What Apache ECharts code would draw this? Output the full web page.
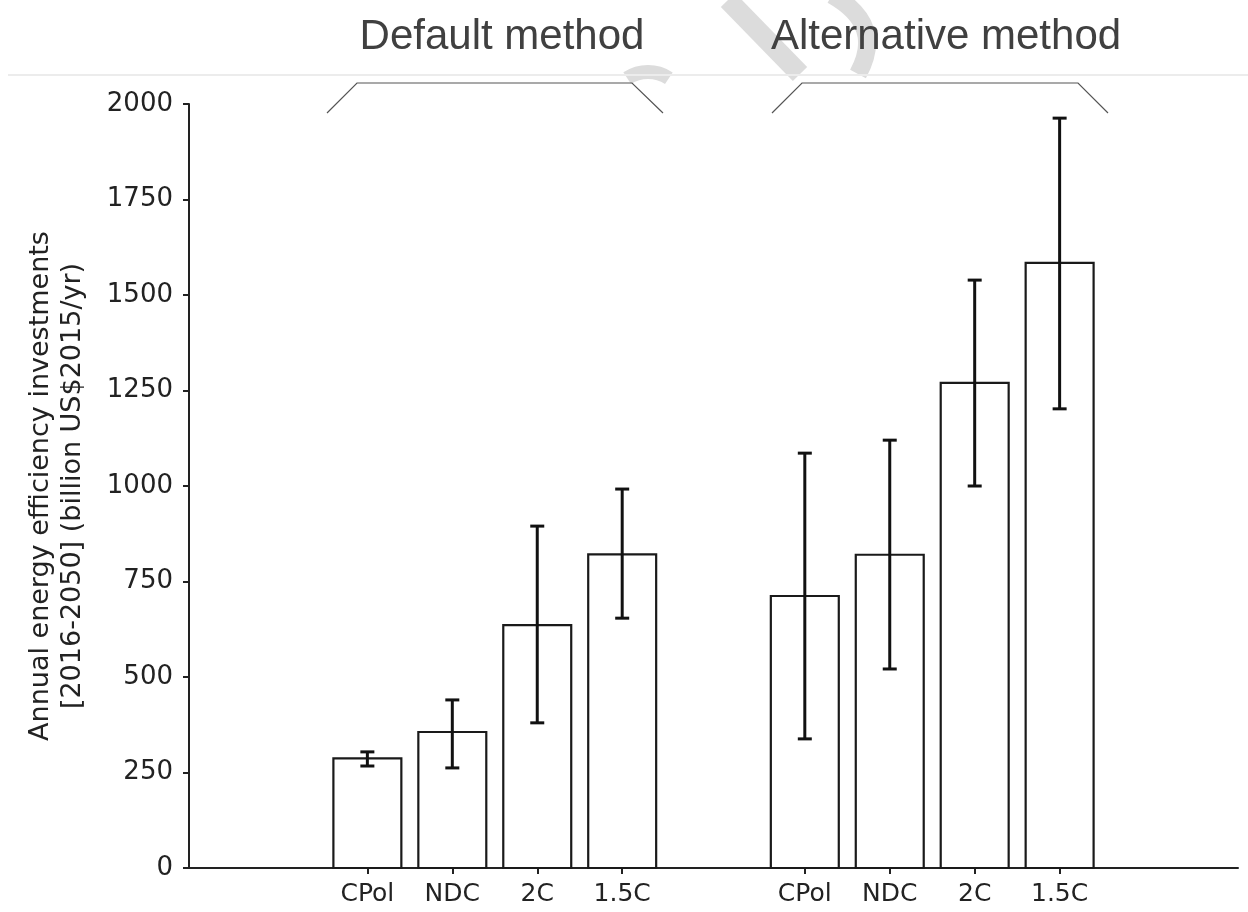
<!DOCTYPE html>
<html>
<head>
<meta charset="utf-8">
<script src="https://cdn.jsdelivr.net/npm/echarts@6/dist/echarts.min.js"></script>
<style>
html, body { margin: 0; padding: 0; background: #fff; }
#chart { width: 1248px; height: 912px; }
</style>
</head>
<body>
<div id="chart"></div>
<script>
// data
var scenarios = ['CPol', 'NDC', '2C', '1.5C'];
var groupNames = ['Default method', 'Alternative method'];
var defaultMean = [287, 356, 636, 821];
var defaultLow  = [267, 262, 380, 654];
var defaultHigh = [304, 440, 895, 992];
var altMean = [712, 820, 1270, 1584];
var altLow  = [338, 521, 1000, 1202];
var altHigh = [1086, 1120, 1539, 1963];
var yTicks = [0, 250, 500, 750, 1000, 1250, 1500, 1750, 2000];

// x slots: default group at 0..3, alternative group shifted along
var groupOffset = 5.15;
var xPos = [];
var xLabels = [];
var rows = [];
scenarios.forEach(function (s, i) {
  xPos.push(i); xLabels.push(s);
  rows.push([i, defaultMean[i], defaultLow[i], defaultHigh[i]]);
});
scenarios.forEach(function (s, i) {
  xPos.push(groupOffset + i); xLabels.push(s);
  rows.push([groupOffset + i, altMean[i], altLow[i], altHigh[i]]);
});

var myChart = echarts.init(document.getElementById('chart'));

function renderBar(params, api) {
  var x = api.value(0), y = api.value(1), lo = api.value(2), hi = api.value(3);
  var tl = api.coord([x - 0.4, y]);
  var br = api.coord([x + 0.4, 0]);
  var pLo = api.coord([x, lo]);
  var pHi = api.coord([x, hi]);
  var cap = 7;
  var errStyle = { stroke: '#111', lineWidth: 3 };
  return {
    type: 'group',
    children: [
      { type: 'rect', shape: { x: tl[0], y: tl[1], width: br[0] - tl[0], height: br[1] - tl[1] },
        style: { fill: '#fff', stroke: '#1a1a1a', lineWidth: 2.2 } },
      { type: 'line', shape: { x1: pLo[0], y1: pLo[1], x2: pHi[0], y2: pHi[1] }, style: errStyle },
      { type: 'line', shape: { x1: pLo[0] - cap, y1: pLo[1], x2: pLo[0] + cap, y2: pLo[1] }, style: errStyle },
      { type: 'line', shape: { x1: pHi[0] - cap, y1: pHi[1], x2: pHi[0] + cap, y2: pHi[1] }, style: errStyle }
    ]
  };
}

var option = {
  backgroundColor: '#fff',
  animation: false,
  grid: { left: 189, right: 10, top: 104, bottom: 44, outerBoundsMode: 'none' },
  xAxis: {
    type: 'value',
    min: -2.1,
    max: 10.25,
    splitLine: { show: false },
    axisLine: { show: true, onZero: false, lineStyle: { color: '#222', width: 2 } },
    axisTick: { show: true, customValues: xPos, length: 6, lineStyle: { color: '#222', width: 2 } },
    axisLabel: {
      customValues: xPos,
      margin: 14,
      fontFamily: 'DejaVu Sans',
      fontSize: 25,
      color: '#222',
      formatter: function (v) {
        for (var i = 0; i < xPos.length; i++) {
          if (Math.abs(xPos[i] - v) < 1e-6) return xLabels[i];
        }
        return '';
      }
    }
  },
  yAxis: {
    type: 'value',
    min: yTicks[0],
    max: yTicks[yTicks.length - 1],
    interval: yTicks[1] - yTicks[0],
    splitLine: { show: false },
    axisLine: { show: true, onZero: false, lineStyle: { color: '#222', width: 2 } },
    axisTick: { show: true, length: 6, lineStyle: { color: '#222', width: 2 } },
    axisLabel: { margin: 16, fontFamily: 'DejaVu Sans', fontSize: 26, color: '#222',
      formatter: function (v) { return String(v); } },
    name: 'Annual energy efficiency investments\n[2016-2050] (billion US$2015/yr)',
    nameLocation: 'middle',
    nameGap: 100,
    nameTextStyle: { fontFamily: 'DejaVu Sans', fontSize: 27, color: '#222', lineHeight: 32 }
  },
  graphic: [
    // faint watermark strokes at the top
    { type: 'line', z: -2, shape: { x1: 728, y1: 0, x2: 800, y2: 74 },
      style: { stroke: '#dcdcdc', lineWidth: 20 } },
    { type: 'bezierCurve', z: -2, shape: { x1: 832, y1: -5, cpx1: 885, cpy1: 25, x2: 858, y2: 74 },
      style: { stroke: '#dcdcdc', lineWidth: 18, fill: null } },
    { type: 'arc', z: -2, shape: { cx: 648, cy: 110, r: 38, startAngle: -2.15, endAngle: -0.99 },
      style: { stroke: '#dcdcdc', lineWidth: 14, fill: null } },
    { type: 'line', z: -1, shape: { x1: 8, y1: 75, x2: 1248, y2: 75 },
      style: { stroke: '#ececec', lineWidth: 2 } },
    // group titles
    { type: 'text', x: 502, y: 37, style: { text: groupNames[0], fontFamily: 'Liberation Sans', fontSize: 42,
      fill: '#404040', align: 'center', verticalAlign: 'middle' } },
    { type: 'text', x: 946, y: 37, style: { text: groupNames[1], fontFamily: 'Liberation Sans', fontSize: 42,
      fill: '#404040', align: 'center', verticalAlign: 'middle' } },
    // brackets under the titles
    { type: 'polyline', shape: { points: [[327, 113], [357, 83], [632, 83], [663, 113]] },
      style: { stroke: '#555', lineWidth: 1.2, fill: null } },
    { type: 'polyline', shape: { points: [[772, 113], [802, 83], [1078, 83], [1108, 113]] },
      style: { stroke: '#555', lineWidth: 1.2, fill: null } }
  ],
  series: [
    {
      type: 'custom',
      renderItem: renderBar,
      encode: { x: 0, y: [1, 2, 3] },
      data: rows,
      clip: false
    }
  ]
};

myChart.setOption(option);
</script>
</body>
</html>
